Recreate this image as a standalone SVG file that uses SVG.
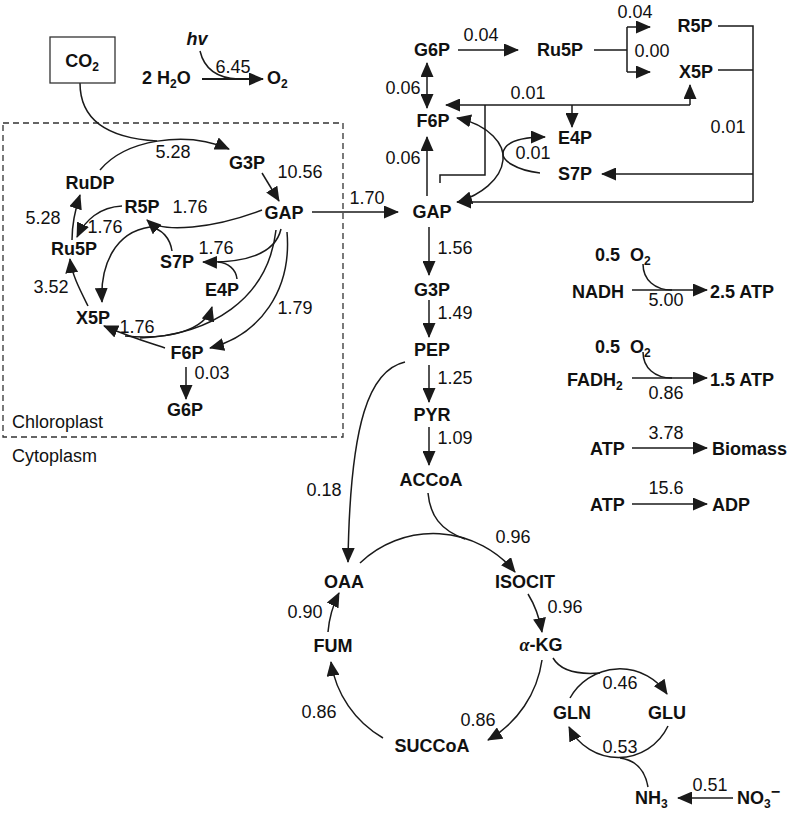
<svg xmlns="http://www.w3.org/2000/svg" width="796" height="814" viewBox="0 0 796 814">
<defs>
<marker id="ah" markerUnits="userSpaceOnUse" markerWidth="15" markerHeight="13" refX="14" refY="6.5" orient="auto-start-reverse"><path d="M0,0 L15,6.5 L0,13 z" fill="#1a1a1a"/></marker>
<style>
.n{font-family:"Liberation Sans",Arial,sans-serif;font-weight:bold;font-size:18px;fill:#111;text-anchor:middle}
.s{font-family:"Liberation Sans",Arial,sans-serif;font-weight:bold;font-size:18px;fill:#111}
.v{font-family:"Liberation Sans",Arial,sans-serif;font-size:18px;fill:#111;text-anchor:middle}
.c path,.c line,.c polyline{fill:none;stroke:#1a1a1a;stroke-width:1.5}
.a{marker-end:url(#ah)}
.sub{font-size:12px}
</style>
</defs>
<rect width="796" height="814" fill="#fff"/>

<!-- compartments -->
<g id="chloroplast">
<rect x="3" y="123" width="340" height="314" fill="none" stroke="#333" stroke-width="1.3" stroke-dasharray="6 4"/>
<text x="12" y="428" style="font-family:'Liberation Sans',Arial,sans-serif;font-size:18px;fill:#111">Chloroplast</text>
<text x="12" y="462" style="font-family:'Liberation Sans',Arial,sans-serif;font-size:18px;fill:#111">Cytoplasm</text>
</g>

<g class="c" id="connectors">
<!-- photosynthesis -->
<path d="M200 51 C204 68 215 78 238 79"/>
<path d="M202 79 L263 79" style="stroke-width:2.2" class="a"/>
<path d="M80 83 C80 118 105 138 157 141"/>
<path d="M100 170 C125 140 185 130 229 149" class="a"/>
<path d="M262 173 L279 201" class="a"/>
<path d="M72 240 C72 225 75 210 80 195" class="a"/>
<path d="M122 206 C100 207 85 220 77 237" class="a"/>
<path d="M88 306 C80 290 72 275 70 259" class="a"/>
<path d="M262 210 C215 228 162 234 147 220" class="a"/>
<path d="M172 251 C170 238 162 229 150 227"/>
<path d="M150 227 C115 232 100 265 102 302" class="a"/>
<path d="M281 229 C275 255 245 263 203 262" class="a"/>
<path d="M237 279 C236 269 228 263 218 262"/>
<path d="M276 230 C268 300 210 335 140 338"/>
<path d="M165 348 C150 343 130 337 104 326" class="a"/>
<path d="M125 336 C170 340 205 330 212 307" class="a"/>
<path d="M287 232 C292 290 260 335 210 348" class="a"/>
<path d="M186 367 L186 399" class="a"/>
<path d="M312 212 L398 212" class="a"/>
<!-- cytoplasm upper -->
<path d="M458 50 L518 50" class="a"/>
<path d="M594 50 L627 50 M627 27 L627 72"/>
<path d="M627 27 L650 27" class="a"/>
<path d="M627 72 L650 72" class="a"/>
<polyline points="718,26 753,26 753,202"/>
<path d="M718 70 L753 70"/>
<path d="M753 174 L602 174" class="a"/>
<path d="M753 202 L457 202" class="a"/>
<path d="M690 105 L446 105" class="a"/>
<path d="M690 105 L690 85" class="a"/>
<path d="M572 105 L572 127" class="a"/>
<polyline points="485,105 485,175 440,175 440,183"/>
<path d="M427 63 L427 108" class="a" style="marker-start:url(#ah)"/>
<path d="M427 196 L427 137" class="a"/>
<path d="M457 118 C490 125 505 145 503 160 C501 180 480 195 458 202" class="a" style="marker-start:url(#ah)"/>
<path d="M540 173 C515 170 502 160 503 153 C505 142 520 137 545 137" class="a"/>
<!-- glycolysis -->
<path d="M429 227 L429 275" class="a"/>
<path d="M429 300 L429 337" class="a"/>
<path d="M429 365 L429 402" class="a"/>
<path d="M429 427 L429 465" class="a"/>
<path d="M405 362 C370 370 350 420 348 562" class="a"/>
<!-- TCA -->
<path d="M360 563 A106 106 0 0 1 515 572" class="a"/>
<path d="M428 493 C430 515 440 530 465 539"/>
<path d="M528 594 Q538 610 542 632" class="a"/>
<path d="M542 660 A110 110 0 0 1 488 740" class="a"/>
<path d="M383 738 A106 106 0 0 1 331 662" class="a"/>
<path d="M328 632 A106 106 0 0 1 339 593" class="a"/>
<!-- N assimilation -->
<path d="M570 698 A57 57 0 0 1 667 694" class="a"/>
<path d="M553 658 C560 670 575 675 600 673"/>
<path d="M668 726 A55 55 0 0 1 569 727" class="a"/>
<path d="M648 787 C645 770 635 760 620 758"/>
<path d="M733 798 L678 798" class="a"/>
<!-- energy -->
<path d="M632 290 L707 290" class="a"/>
<path d="M643 264 C643 280 655 290 672 290"/>
<path d="M632 378 L707 378" class="a"/>
<path d="M643 352 C643 368 655 378 672 378"/>
<path d="M632 448 L707 448" class="a"/>
<path d="M632 504 L707 504" class="a"/>
</g>

<!-- nodes -->
<g id="co2"><rect x="50" y="37" width="65" height="46" fill="#fff" stroke="#333" stroke-width="1.3"/><text class="n" x="82" y="67">CO<tspan class="sub" dy="4">2</tspan></text></g>
<g id="hv"><text class="n" x="197" y="45" font-style="italic">hv</text></g>
<g id="h2o"><text class="s" x="142" y="84">2 H<tspan class="sub" dy="4">2</tspan><tspan dy="-4">O</tspan></text></g>
<g id="o2top"><text class="s" x="267" y="84">O<tspan class="sub" dy="4">2</tspan></text></g>
<g id="ch_RuDP"><text class="n" x="90" y="189">RuDP</text></g>
<g id="ch_G3P"><text class="n" x="247" y="169">G3P</text></g>
<g id="ch_GAP"><text class="n" x="284" y="219">GAP</text></g>
<g id="ch_R5P"><text class="n" x="142" y="213">R5P</text></g>
<g id="ch_Ru5P"><text class="n" x="74" y="255">Ru5P</text></g>
<g id="ch_S7P"><text class="n" x="177" y="268">S7P</text></g>
<g id="ch_E4P"><text class="n" x="222" y="296">E4P</text></g>
<g id="ch_X5P"><text class="n" x="93" y="324">X5P</text></g>
<g id="ch_F6P"><text class="n" x="187" y="359">F6P</text></g>
<g id="ch_G6P"><text class="n" x="185" y="416">G6P</text></g>

<g id="GAP"><text class="n" x="432" y="218">GAP</text></g>
<g id="G6P"><text class="n" x="432" y="56">G6P</text></g>
<g id="Ru5P"><text class="n" x="560" y="56">Ru5P</text></g>
<g id="R5P"><text class="n" x="695" y="32">R5P</text></g>
<g id="X5P"><text class="n" x="696" y="78">X5P</text></g>
<g id="F6P"><text class="n" x="433" y="127">F6P</text></g>
<g id="E4P"><text class="n" x="575" y="144">E4P</text></g>
<g id="S7P"><text class="n" x="575" y="180">S7P</text></g>
<g id="G3P"><text class="n" x="432" y="296">G3P</text></g>
<g id="PEP"><text class="n" x="432" y="356">PEP</text></g>
<g id="PYR"><text class="n" x="432" y="421">PYR</text></g>
<g id="ACCoA"><text class="n" x="431" y="486">ACCoA</text></g>
<g id="OAA"><text class="n" x="344" y="588">OAA</text></g>
<g id="ISOCIT"><text class="n" x="525" y="588">ISOCIT</text></g>
<g id="aKG"><text class="n" x="541" y="651"><tspan font-family="Liberation Serif" font-style="italic">α</tspan>-KG</text></g>
<g id="FUM"><text class="n" x="333" y="652">FUM</text></g>
<g id="SUCCoA"><text class="n" x="432" y="752">SUCCoA</text></g>
<g id="GLN"><text class="n" x="572" y="719">GLN</text></g>
<g id="GLU"><text class="n" x="667" y="719">GLU</text></g>
<g id="NH3"><text class="s" x="635" y="804">NH<tspan class="sub" dy="4">3</tspan></text></g>
<g id="NO3"><text class="s" x="737" y="804">NO<tspan class="sub" dy="4">3</tspan><tspan dy="-11" style="font-size:16px">−</tspan></text></g>

<g id="O2a"><text class="s" x="595" y="261">0.5 </text><text class="s" x="630" y="261">O<tspan class="sub" dy="4">2</tspan></text></g>
<g id="NADH"><text class="s" x="572" y="298">NADH</text></g>
<g id="ATP25"><text class="s" x="710" y="298">2.5 ATP</text></g>
<g id="O2b"><text class="s" x="595" y="353">0.5 </text><text class="s" x="630" y="353">O<tspan class="sub" dy="4">2</tspan></text></g>
<g id="FADH2"><text class="s" x="567" y="386">FADH<tspan class="sub" dy="4">2</tspan></text></g>
<g id="ATP15"><text class="s" x="710" y="386">1.5 ATP</text></g>
<g id="ATPa"><text class="s" x="590" y="455">ATP</text></g>
<g id="Biomass"><text class="s" x="712" y="455">Biomass</text></g>
<g id="ATPb"><text class="s" x="590" y="511">ATP</text></g>
<g id="ADP"><text class="s" x="712" y="511">ADP</text></g>

<!-- flux values -->
<g id="labels">
<text class="v" x="233" y="73">6.45</text>
<text class="v" x="173" y="158">5.28</text>
<text class="v" x="300" y="178">10.56</text>
<text class="v" x="190" y="213">1.76</text>
<text class="v" x="43" y="224">5.28</text>
<text class="v" x="105" y="233">1.76</text>
<text class="v" x="216" y="254">1.76</text>
<text class="v" x="51" y="293">3.52</text>
<text class="v" x="137" y="333">1.76</text>
<text class="v" x="295" y="314">1.79</text>
<text class="v" x="212" y="379">0.03</text>
<text class="v" x="367" y="204">1.70</text>
<text class="v" x="481" y="41">0.04</text>
<text class="v" x="635" y="18">0.04</text>
<text class="v" x="652" y="57">0.00</text>
<text class="v" x="528" y="99">0.01</text>
<text class="v" x="728" y="133">0.01</text>
<text class="v" x="533" y="159">0.01</text>
<text class="v" x="403" y="94">0.06</text>
<text class="v" x="403" y="164">0.06</text>
<text class="v" x="455" y="254">1.56</text>
<text class="v" x="455" y="319">1.49</text>
<text class="v" x="455" y="384">1.25</text>
<text class="v" x="455" y="444">1.09</text>
<text class="v" x="324" y="496">0.18</text>
<text class="v" x="513" y="543">0.96</text>
<text class="v" x="565" y="613">0.96</text>
<text class="v" x="305" y="618">0.90</text>
<text class="v" x="319" y="718">0.86</text>
<text class="v" x="478" y="726">0.86</text>
<text class="v" x="620" y="689">0.46</text>
<text class="v" x="620" y="753">0.53</text>
<text class="v" x="710" y="791">0.51</text>
<text class="v" x="666" y="306">5.00</text>
<text class="v" x="666" y="399">0.86</text>
<text class="v" x="666" y="439">3.78</text>
<text class="v" x="666" y="494">15.6</text>
</g>
</svg>
